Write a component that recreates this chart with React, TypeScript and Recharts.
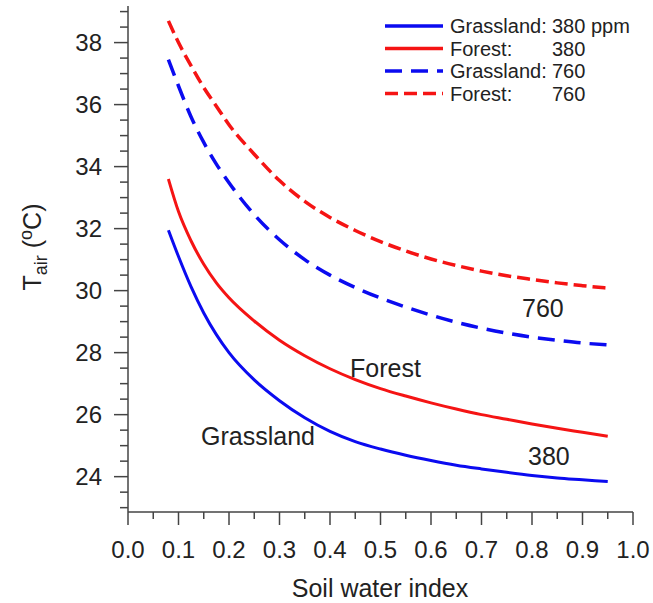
import React from 'react';
import { LineChart, Line, XAxis, YAxis, Customized } from 'recharts';

const soilWater = [0.08, 0.1, 0.125, 0.15, 0.175, 0.2, 0.25, 0.3, 0.35, 0.4, 0.45, 0.5, 0.55, 0.6, 0.65, 0.7, 0.75, 0.8, 0.85, 0.9, 0.95];
const grass380 = [31.95, 31.1, 30.12, 29.28, 28.58, 28.0, 27.12, 26.45, 25.9, 25.46, 25.13, 24.89, 24.69, 24.52, 24.37, 24.25, 24.14, 24.04, 23.96, 23.9, 23.84];
const forest380 = [33.6, 32.55, 31.6, 30.85, 30.25, 29.77, 29.02, 28.4, 27.9, 27.48, 27.13, 26.84, 26.6, 26.38, 26.18, 26.0, 25.85, 25.7, 25.56, 25.43, 25.3];
const grass760 = [37.45, 36.6, 35.6, 34.78, 34.08, 33.48, 32.45, 31.64, 31.0, 30.5, 30.1, 29.76, 29.47, 29.21, 28.98, 28.79, 28.63, 28.5, 28.4, 28.31, 28.25];
const forest760 = [38.7, 38.0, 37.25, 36.55, 35.95, 35.35, 34.4, 33.55, 32.88, 32.36, 31.94, 31.58, 31.28, 31.02, 30.81, 30.63, 30.48, 30.36, 30.25, 30.16, 30.08];

const xTicks = [0, 0.05, 0.1, 0.15, 0.2, 0.25, 0.3, 0.35, 0.4, 0.45, 0.5, 0.55, 0.6, 0.65, 0.7, 0.75, 0.8, 0.85, 0.9, 0.95, 1.0];
const yTicks = [23, 23.5, 24, 24.5, 25, 25.5, 26, 26.5, 27, 27.5, 28, 28.5, 29, 29.5, 30, 30.5, 31, 31.5, 32, 32.5, 33, 33.5, 34, 34.5, 35, 35.5, 36, 36.5, 37, 37.5, 38, 38.5, 39];
const yDomain = [22.86, 39.18];

const legendItems = [
  { name: 'Grassland:', value: '380 ppm', color: '#0b0bf0', dash: undefined },
  { name: 'Forest:', value: '380', color: '#f51414', dash: undefined },
  { name: 'Grassland:', value: '760', color: '#0b0bf0', dash: '17 9' },
  { name: 'Forest:', value: '760', color: '#f51414', dash: '13 6' },
];

const data = soilWater.map((x, i) => ({
  x,
  g380: grass380[i],
  f380: forest380[i],
  g760: grass760[i],
  f760: forest760[i],
}));

const FONT = '"Liberation Sans", Arial, Helvetica, sans-serif';
const AXIS = '#444';
const TEXT = '#222';

const XTick = (props: any) => {
  const { x, y, payload } = props;
  const v = payload.value as number;
  const major = Math.round(v * 100) % 10 === 0;
  return (
    <g>
      <line x1={x} x2={x} y1={y} y2={y + (major ? 13 : 7)} stroke={AXIS} strokeWidth={1.5} />
      {major && (
        <text x={x} y={y + 46} textAnchor="middle" fontSize={24} fill={TEXT} fontFamily={FONT}>
          {v.toFixed(1)}
        </text>
      )}
    </g>
  );
};

const YTick = (props: any) => {
  const { x, y, payload } = props;
  const v = payload.value as number;
  const major = Math.abs(v % 2) < 1e-6;
  return (
    <g>
      <line x1={x - (major ? 14 : 8)} x2={x} y1={y} y2={y} stroke={AXIS} strokeWidth={1.5} />
      {major && (
        <text x={x - 26} y={y + 8.5} textAnchor="end" fontSize={24} fill={TEXT} fontFamily={FONT}>
          {v}
        </text>
      )}
    </g>
  );
};

const Overlay = () => (
  <g fontFamily={FONT} fill={TEXT}>
    <text x={41} y={247} transform="rotate(-90 41 247)" textAnchor="middle" fontSize={25}>
      T<tspan dy={6} fontSize={18}>air</tspan>
      <tspan dy={-6}> (</tspan>
      <tspan dy={-9} fontSize={18}>o</tspan>
      <tspan dy={9}>C)</tspan>
    </text>
    <text x={380} y={597} textAnchor="middle" fontSize={25}>Soil water index</text>
    {legendItems.map((it, i) => {
      const cy = 26 + i * 22.5;
      return (
        <g key={i}>
          <line x1={385} x2={443} y1={cy} y2={cy} stroke={it.color} strokeWidth={3.5} strokeDasharray={it.dash} />
          <text x={450} y={cy + 7} fontSize={20}>{it.name}</text>
          <text x={552} y={cy + 7} fontSize={20}>{it.value}</text>
        </g>
      );
    })}
    <text x={201} y={445} fontSize={25}>Grassland</text>
    <text x={350} y={377} fontSize={25}>Forest</text>
    <text x={522} y={317} fontSize={25}>760</text>
    <text x={528} y={465} fontSize={25}>380</text>
  </g>
);

export default function App() {
  return (
    <div style={{ position: 'absolute', left: 0, top: 0, background: '#fff' }}>
      <LineChart width={653} height={603} data={data} margin={{ top: 6, right: 20, bottom: 0, left: 0 }}>
        <XAxis
          dataKey="x"
          type="number"
          domain={[0, 1]}
          ticks={xTicks}
          interval={0}
          tick={<XTick />}
          tickLine={false}
          tickSize={0}
          tickMargin={0}
          height={91}
          axisLine={{ stroke: AXIS, strokeWidth: 1.5 }}
        />
        <XAxis
          xAxisId="top"
          orientation="top"
          type="number"
          domain={[0, 1]}
          tick={false}
          tickLine={false}
          height={0}
          axisLine={{ stroke: '#8a8a8a', strokeWidth: 1.2 }}
        />
        <YAxis
          type="number"
          domain={yDomain}
          ticks={yTicks}
          interval={0}
          tick={<YTick />}
          tickLine={false}
          tickSize={0}
          tickMargin={0}
          width={128}
          axisLine={{ stroke: AXIS, strokeWidth: 1.5 }}
          allowDataOverflow
        />
        <YAxis
          yAxisId="right"
          orientation="right"
          type="number"
          domain={yDomain}
          tick={false}
          tickLine={false}
          width={0}
          axisLine={{ stroke: '#8a8a8a', strokeWidth: 1.2 }}
        />
        <Line dataKey="f760" type="monotone" stroke="#f51414" strokeWidth={3.5} strokeDasharray="13 6" dot={false} isAnimationActive={false} />
        <Line dataKey="g760" type="monotone" stroke="#0b0bf0" strokeWidth={3.5} strokeDasharray="17 9" dot={false} isAnimationActive={false} />
        <Line dataKey="f380" type="monotone" stroke="#f51414" strokeWidth={3} dot={false} isAnimationActive={false} />
        <Line dataKey="g380" type="monotone" stroke="#0b0bf0" strokeWidth={3} dot={false} isAnimationActive={false} />
        <Customized component={Overlay} />
      </LineChart>
    </div>
  );
}
